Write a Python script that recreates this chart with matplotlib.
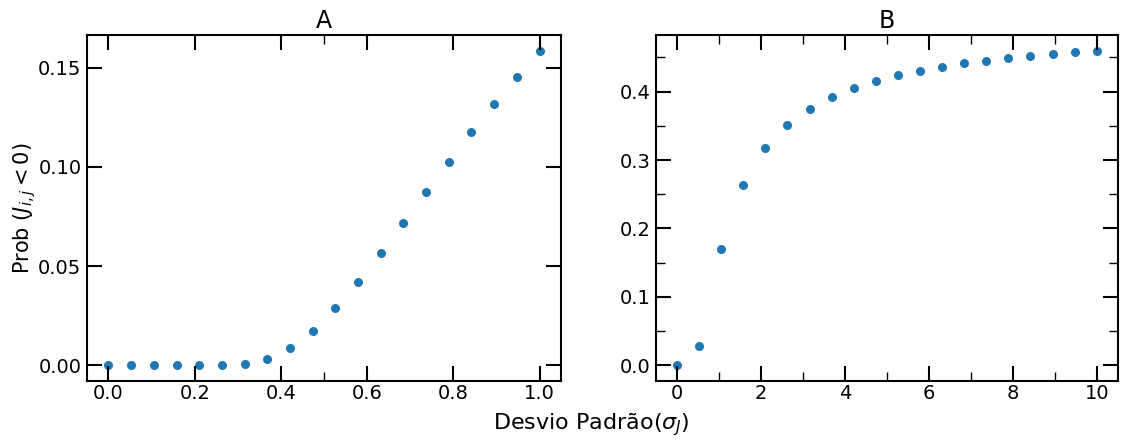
import matplotlib
matplotlib.use('Agg')
import matplotlib.pyplot as plt
from matplotlib.ticker import MultipleLocator

# panel A: small sigma range
sigma_a = [0.0, 0.0526, 0.1053, 0.1579, 0.2105, 0.2632, 0.3158, 0.3684, 0.4211, 0.4737,
           0.5263, 0.5789, 0.6316, 0.6842, 0.7368, 0.7895, 0.8421, 0.8947, 0.9474, 1.0]
prob_a = [0.0, 0.0, 0.0, 0.0, 0.0, 0.0001, 0.0008, 0.0032, 0.0087, 0.0173,
          0.0287, 0.0420, 0.0566, 0.0719, 0.0873, 0.1025, 0.1174, 0.1317, 0.1453, 0.1584]

# panel B: large sigma range
sigma_b = [0.0, 0.526, 1.053, 1.579, 2.105, 2.632, 3.158, 3.684, 4.211, 4.737,
           5.263, 5.789, 6.316, 6.842, 7.368, 7.895, 8.421, 8.947, 9.474, 10.0]
prob_b = [0.0, 0.0287, 0.1705, 0.2631, 0.3172, 0.3513, 0.3752, 0.3927, 0.4058, 0.4161,
          0.4244, 0.4307, 0.4365, 0.4414, 0.4453, 0.4492, 0.4521, 0.4551, 0.4575, 0.4594]

fig = plt.figure(figsize=(11.29, 4.4), dpi=100)
axA = fig.add_axes([0.077, 0.134, 0.420, 0.786])
axB = fig.add_axes([0.581, 0.134, 0.409, 0.786])

axA.scatter(sigma_a, prob_a, color='#1f77b4', s=30)
axB.scatter(sigma_b, prob_b, color='#1f77b4', s=30)

axA.set_title('A', fontsize=17, pad=5)
axB.set_title('B', fontsize=17, pad=5)
axA.set_ylabel('Prob ($J_{i,j} < 0$)', fontsize=15, labelpad=0)

axA.xaxis.set_major_locator(MultipleLocator(0.2))
axA.xaxis.set_minor_locator(MultipleLocator(0.5))
axA.yaxis.set_major_locator(MultipleLocator(0.05))
axA.yaxis.set_minor_locator(MultipleLocator(0.5))
axB.xaxis.set_major_locator(MultipleLocator(2))
axB.xaxis.set_minor_locator(MultipleLocator(1))
axB.yaxis.set_major_locator(MultipleLocator(0.1))
axB.yaxis.set_minor_locator(MultipleLocator(0.05))

for ax in (axA, axB):
    ax.tick_params(which='both', direction='in', top=True, right=True, labelsize=14)
    ax.tick_params(which='major', length=11, width=1.5)
    ax.tick_params(which='minor', length=6.5, width=1.0)
    ax.tick_params(axis='x', which='major', pad=2)
    ax.tick_params(axis='y', which='major', pad=4)
    for sp in ax.spines.values():
        sp.set_linewidth(1.5)

fig.text(0.524, 0.034, 'Desvio Padrão($\\sigma_J$)', fontsize=16, ha='center', va='center')

fig.savefig('out.png', dpi=100)
